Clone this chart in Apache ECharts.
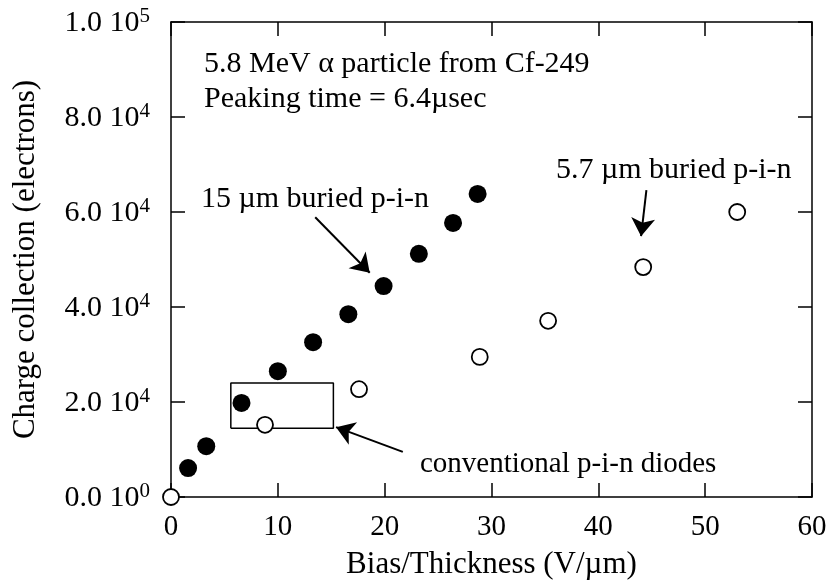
<!DOCTYPE html>
<html>
<head>
<meta charset="utf-8">
<script src="https://cdn.jsdelivr.net/npm/echarts@6/dist/echarts.min.js"></script>
<style>
  html, body { margin: 0; padding: 0; background: #fff; }
  #chart { width: 832px; height: 585px; }
</style>
</head>
<body>
<div id="chart"></div>
<script>
// 15 µm buried p-i-n detector (filled circles)
const buried15X = [1.6, 3.3, 6.6, 10.0, 13.3, 16.6, 19.9, 23.2, 26.4, 28.7];
const buried15Y = [6100, 10700, 19800, 26500, 32600, 38500, 44400, 51200, 57700, 63800];

// 5.7 µm buried p-i-n and conventional p-i-n detectors (open circles)
const openX = [0, 8.8, 17.6, 28.9, 35.3, 44.2, 53.0];
const openY = [0, 15200, 22700, 29500, 37100, 48400, 60000];

// Box around the conventional p-i-n diode points
const boxX = [5.6, 15.2];
const boxY = [14500, 24000];

// Annotation arrows: [tailX, tailY, headX, headY]
const arrow15 = [13.5, 58900, 18.6, 47200];
const arrow57 = [44.5, 64600, 44.0, 54900];
const arrowConv = [21.7, 9500, 15.45, 14700];

// Axis ticks
const xTicks = [0, 10, 20, 30, 40, 50, 60];
const yTickMantissa = ['0.0', '2.0', '4.0', '6.0', '8.0', '1.0'];
const yTickExponent = ['0', '4', '4', '4', '4', '5'];

const FONT = "'Liberation Serif', 'Times New Roman', serif";
const chart = echarts.init(document.getElementById('chart'));

const axisLine = { show: true, onZero: false, lineStyle: { color: '#000', width: 1.5 } };
const axisTick = { show: true, inside: true, length: 14, lineStyle: { color: '#000', width: 1.5 } };

chart.setOption({
  animation: false,
  backgroundColor: '#fff',
  grid: { left: 171, right: 20, top: 22, bottom: 88 },
  xAxis: [
    {
      type: 'value', min: xTicks[0], max: xTicks[xTicks.length - 1], interval: 10,
      axisLine, axisTick, splitLine: { show: false },
      axisLabel: { color: '#000', fontFamily: FONT, fontSize: 29, margin: 16,
        formatter: v => String(v) },
      name: 'Bias/Thickness (V/µm)', nameLocation: 'middle', nameGap: 52,
      nameTextStyle: { color: '#000', fontFamily: FONT, fontSize: 31 }
    },
    {
      type: 'value', position: 'top', min: 0, max: 60, interval: 10,
      axisLine, axisTick, splitLine: { show: false }, axisLabel: { show: false }
    }
  ],
  yAxis: [
    {
      type: 'value', min: 0, max: 100000, interval: 20000,
      axisLine, axisTick, splitLine: { show: false },
      axisLabel: {
        color: '#000', margin: 21,
        formatter: v => {
          const i = Math.round(v / 20000);
          return '{m|' + yTickMantissa[i] + ' 10}{e|' + yTickExponent[i] + '}';
        },
        rich: {
          m: { fontFamily: FONT, fontSize: 30, color: '#000', lineHeight: 32, verticalAlign: 'bottom' },
          e: { fontFamily: FONT, fontSize: 21, color: '#000', lineHeight: 21, verticalAlign: 'top' }
        }
      },
      name: 'Charge collection (electrons)', nameLocation: 'middle', nameGap: 130,
      nameTextStyle: { color: '#000', fontFamily: FONT, fontSize: 31 }
    },
    {
      type: 'value', position: 'right', min: 0, max: 100000, interval: 20000,
      axisLine, axisTick, splitLine: { show: false }, axisLabel: { show: false }
    }
  ],
  series: [
    {
      name: 'arrows', type: 'lines', coordinateSystem: 'cartesian2d', z: 3,
      symbol: ['none', 'arrow'], symbolSize: 18,
      lineStyle: { color: '#000', width: 2, opacity: 1 },
      data: [arrow15, arrow57, arrowConv].map(a => ({ coords: [[a[0], a[1]], [a[2], a[3]]] }))
    },
    {
      name: '15 µm buried p-i-n', type: 'scatter', z: 4,
      symbol: 'circle', symbolSize: 18,
      itemStyle: { color: '#000', opacity: 1 },
      data: buried15X.map((x, i) => [x, buried15Y[i]])
    },
    {
      name: 'box', type: 'line', z: 3, symbol: 'none',
      lineStyle: { color: '#000', width: 1.5 },
      data: [[boxX[0], boxY[0]], [boxX[1], boxY[0]], [boxX[1], boxY[1]], [boxX[0], boxY[1]], [boxX[0], boxY[0]]]
    },
    {
      name: '5.7 µm buried p-i-n', type: 'scatter', z: 5,
      symbol: 'circle', symbolSize: 16,
      itemStyle: { color: '#fff', borderColor: '#000', borderWidth: 1.8, opacity: 1 },
      data: openX.map((x, i) => [x, openY[i]])
    }
  ],
  graphic: [
    { type: 'text', x: 204, y: 64, style: { text: '5.8 MeV α particle from Cf-249', font: '30px ' + FONT, fill: '#000', verticalAlign: 'middle' } },
    { type: 'text', x: 204, y: 99, style: { text: 'Peaking time = 6.4µsec', font: '30px ' + FONT, fill: '#000', verticalAlign: 'middle' } },
    { type: 'text', x: 201, y: 199, style: { text: '15 µm buried p-i-n', font: '30px ' + FONT, fill: '#000', verticalAlign: 'middle' } },
    { type: 'text', x: 556, y: 170, style: { text: '5.7 µm buried p-i-n', font: '30px ' + FONT, fill: '#000', verticalAlign: 'middle' } },
    { type: 'text', x: 420, y: 464, style: { text: 'conventional p-i-n diodes', font: '29px ' + FONT, fill: '#000', verticalAlign: 'middle' } }
  ]
});
</script>
</body>
</html>
